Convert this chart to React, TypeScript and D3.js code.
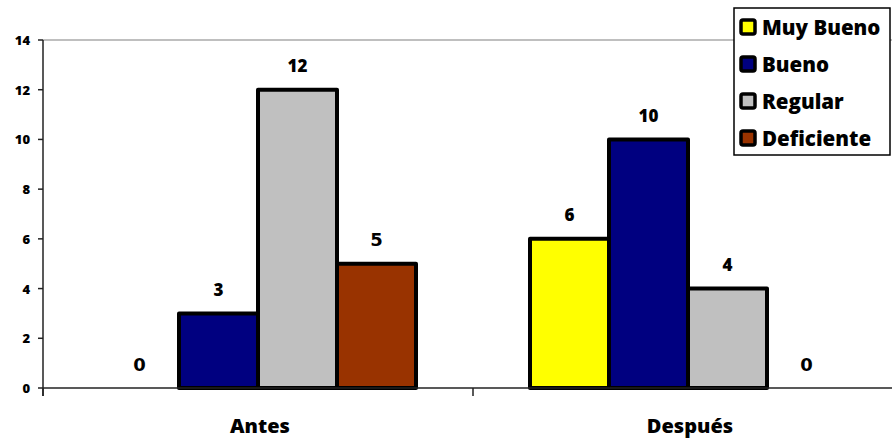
import React from "react";
import * as d3 from "d3";

const categories = ["Antes", "Después"];
const series = ["Muy Bueno", "Bueno", "Regular", "Deficiente"];
const colors = ["#FFFF00", "#000080", "#C0C0C0", "#993300"];
const antesValues = [0, 3, 12, 5];
const despuesValues = [6, 10, 4, 0];
const yTicks = [0, 2, 4, 6, 8, 10, 12, 14];

const W = 892;
const H = 439;
const left = 43;
const top = 40;
const bottom = 388;
const catW = 430;

export default function App() {
  const values = [antesValues, despuesValues];
  const x0 = d3.scaleBand<string>().domain(categories).range([left, left + catW * 2]).padding(0);
  const x1 = d3.scaleBand<string>().domain(series).range([57, catW - 57]).padding(0);
  const y = d3.scaleLinear().domain([0, 14]).range([bottom, top]);
  const bw = x1.bandwidth();
  const labelFont = "'Open Sans', Lato, sans-serif";
  const altFont = "'DejaVu Sans', sans-serif";

  return (
    <svg width={W} height={H} style={{ position: "absolute", left: 0, top: 0, background: "#fff" }}>
      <rect x={0} y={0} width={W} height={H} fill="#fff" />
      <line x1={left} x2={W} y1={top} y2={top} stroke="#808080" strokeWidth={1.2} />
      {categories.map((c, ci) =>
        values[ci].map((v, si) => {
          const x = (x0(c) as number) + (x1(series[si]) as number);
          if (v <= 0) return null;
          return (
            <rect
              key={c + si}
              x={x}
              y={y(v)}
              width={bw}
              height={y(0) - y(v)}
              fill={colors[si]}
              stroke="#000"
              strokeWidth={4}
              strokeLinejoin="round"
            />
          );
        })
      )}
      {categories.map((c, ci) =>
        values[ci].map((v, si) => {
          const x = (x0(c) as number) + (x1(series[si]) as number) + bw / 2;
          const alt = v === 0 || v === 5;
          return (
            <text
              key={"l" + c + si}
              x={x}
              y={y(v) - 24}
              textAnchor="middle"
              dominantBaseline="central"
              fontFamily={alt ? altFont : labelFont}
              fontWeight={800}
              fontSize={alt ? 18 : 17}
              fill="#000"
            >
              {v}
            </text>
          );
        })
      )}
      <line x1={left} x2={left} y1={top} y2={bottom + 8} stroke="#222" strokeWidth={1.5} />
      {yTicks.map((t) => (
        <g key={"t" + t}>
          <line x1={left - 5} x2={left} y1={y(t)} y2={y(t)} stroke="#222" strokeWidth={1.5} />
          <text
            x={30}
            y={y(t)}
            textAnchor="end"
            dominantBaseline="central"
            fontFamily={labelFont}
            fontWeight={800}
            fontSize={13}
            fill="#000"
          >
            {t}
          </text>
        </g>
      ))}
      <line x1={left} x2={W} y1={bottom} y2={bottom} stroke="#222" strokeWidth={1.5} />
      {[left, left + catW, left + catW * 2].map((tx) => (
        <line key={"xt" + tx} x1={tx} x2={tx} y1={bottom} y2={bottom + 8} stroke="#222" strokeWidth={1.5} />
      ))}
      {categories.map((c) => (
        <text
          key={"c" + c}
          x={(x0(c) as number) + catW / 2 + 2}
          y={425}
          textAnchor="middle"
          dominantBaseline="central"
          fontFamily={labelFont}
          fontWeight={800}
          fontSize={20}
          fill="#000"
        >
          {c}
        </text>
      ))}
      <rect x={734} y={8} width={156} height={147} fill="#fff" stroke="#000" strokeWidth={1.5} />
      {series.map((s, i) => {
        const cy = 27 + i * 37;
        return (
          <g key={"lg" + s}>
            <rect
              x={741}
              y={cy - 7}
              width={14}
              height={14}
              rx={2}
              fill={colors[i]}
              stroke="#000"
              strokeWidth={3.5}
            />
            <text
              x={762}
              y={cy}
              dominantBaseline="central"
              fontFamily={labelFont}
              fontWeight={800}
              fontSize={20.5}
              fill="#000"
            >
              {s}
            </text>
          </g>
        );
      })}
    </svg>
  );
}
